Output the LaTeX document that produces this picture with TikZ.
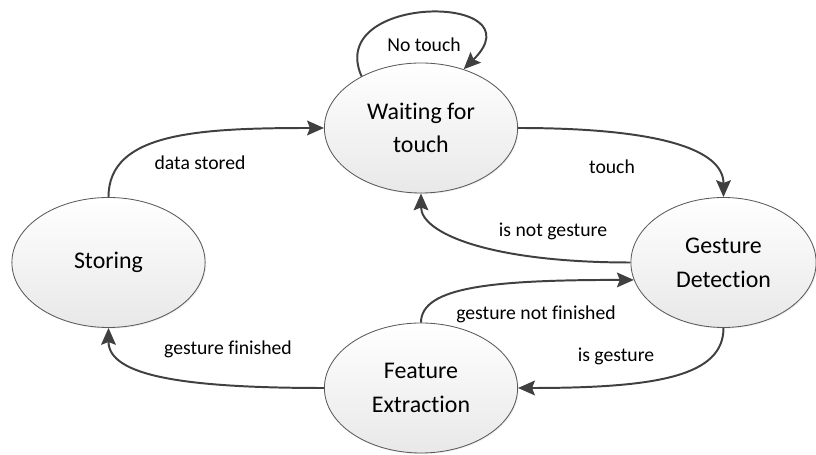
\documentclass[tikz,border=0pt]{standalone}
\usepackage{fontspec}
\setmainfont{Carlito}[Ligatures=NoCommon]
\usetikzlibrary{shapes.geometric}
\usetikzlibrary{arrows.meta}
\usetikzlibrary{shadows}

\definecolor{edgegray}{HTML}{404040}
\definecolor{rimgray}{HTML}{5A5A5A}

\begin{document}
\begin{tikzpicture}[
    stage/.style={ellipse, draw=rimgray, line width=0.6pt, top color=white, bottom color=black!9,
        minimum width=4.83cm, minimum height=3.25cm, inner sep=0pt, align=center,
        font=\fontsize{17}{24}\selectfont,
        drop shadow={opacity=0.12, shadow xshift=0.8pt, shadow yshift=-0.8pt}},
    trans/.style={draw=edgegray, line width=1.4pt, -{Stealth[length=12pt,width=10.5pt,inset=2pt]}},
    lbl/.style={font=\fontsize{14}{17}\selectfont}
]
                \useasboundingbox (0,0) rectangle (20.4,11.375);

                % States
                \node[stage] (waiting) at (10.525,8.175) {Waiting for\\touch};
                \node[stage, minimum width=4.63cm] (detect) at (18.0875,4.8125) {Gesture\\Detection};
                \node[stage] (storing) at (2.7125,4.8125) {Storing};
                \node[stage] (extract) at (10.525,1.675) {Feature\\Extraction};

                % Self loop
                \draw[trans] (waiting.139) .. controls +(-0.925,2.1) and +(1.925,1.9) .. (waiting.54);

                % Transitions
                \draw[trans] (storing.north) .. controls +(0,1.6) and +(-3.2,0) .. (waiting.west);
                \draw[trans] (waiting.east) .. controls +(3.5,0) and +(0,1.2) .. (detect.north);
                \draw[trans] (detect.west) .. controls +(-3.5,0) and +(0,-1.0) .. (waiting.south);
                \draw[trans] (extract.north) .. controls +(0,0.9) and +(-3.5,0) .. (detect.191);
                \draw[trans] (detect.south) .. controls +(0,-1.2) and +(3.5,0) .. (extract.east);
                \draw[trans] (extract.west) .. controls +(-3.5,0) and +(0,-1.2) .. (storing.south);

                % Labels
                \node[lbl] (lblloop) at (10.6,10.25) {No touch};
                \node[lbl] (lblstored) at (5.0,7.3) {data stored};
                \node[lbl] (lbltouch) at (15.3,7.21) {touch};
                \node[lbl] (lblnot) at (13.825,5.6) {is not gesture};
                \node[lbl] (lblnotdone) at (13.4,3.51) {gesture not finished};
                \node[lbl] (lblis) at (15.4,2.46) {is gesture};
                \node[lbl] (lbldone) at (5.7,2.65) {gesture finished};
\end{tikzpicture}
\end{document}
